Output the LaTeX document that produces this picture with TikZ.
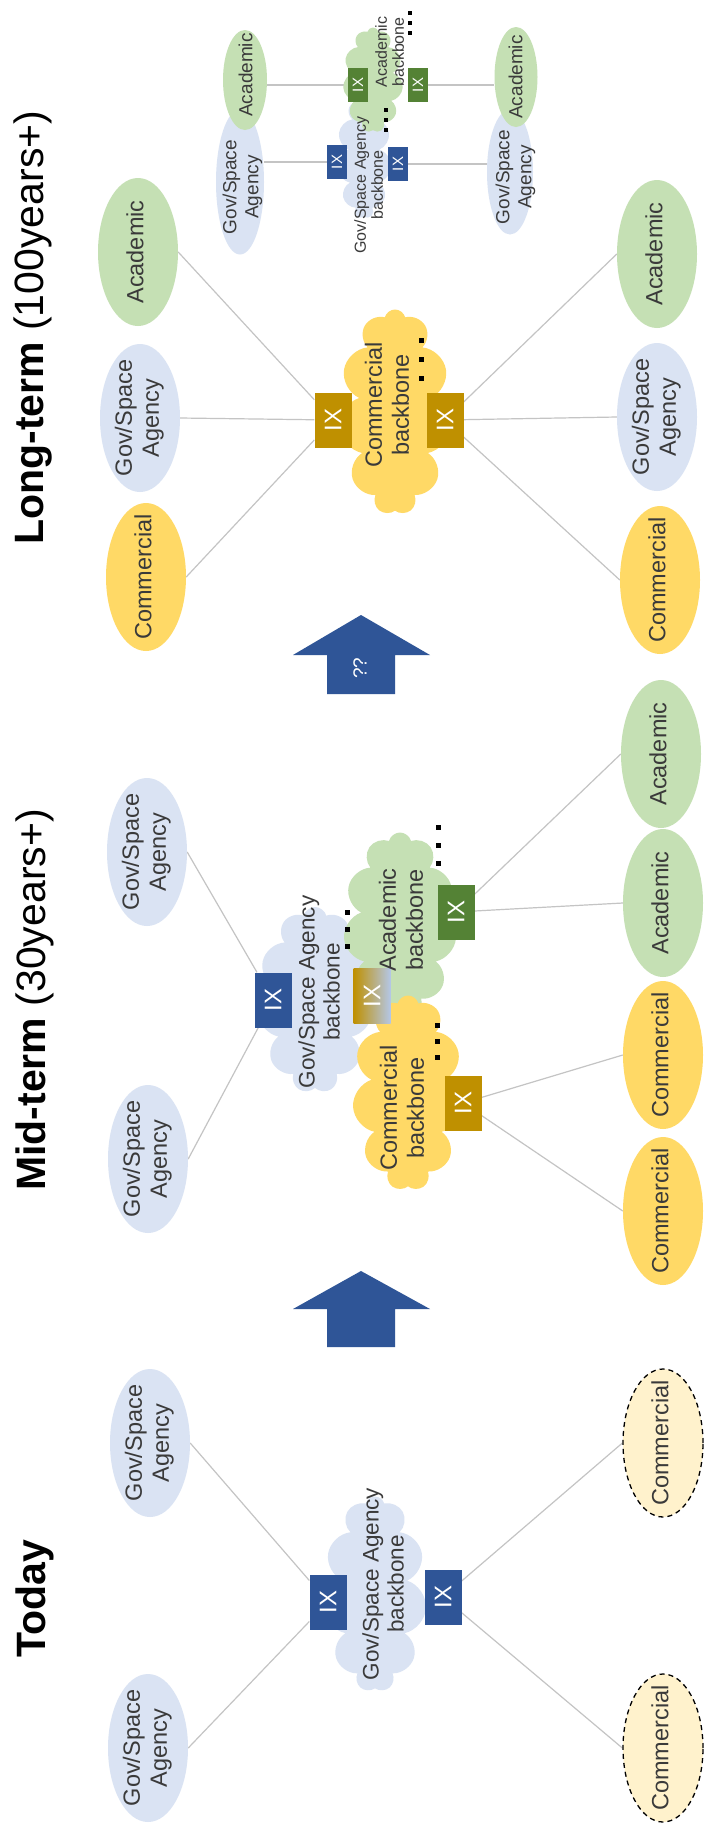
\documentclass[tikz,border=0pt]{standalone}
\usepackage{fontspec}
\setmainfont{Liberation Sans}
\usetikzlibrary{shapes.geometric,shapes.symbols}
\pgfdeclarelayer{bg}
\pgfdeclarelayer{paper}
\pgfsetlayers{paper,bg,main}
\definecolor{govc}{HTML}{DAE3F3}
\definecolor{acac}{HTML}{C5E0B4}
\definecolor{comc}{HTML}{FFD966}
\definecolor{comlight}{HTML}{FFF2CC}
\definecolor{ixblue}{HTML}{2F5597}
\definecolor{ixgold}{HTML}{BF9000}
\definecolor{ixgreen}{HTML}{548235}
\definecolor{ixlblue}{HTML}{B4C7E7}
\definecolor{linec}{HTML}{C4C4C4}
\definecolor{txt}{HTML}{3A3A3A}
\definecolor{arrowc}{HTML}{2F5597}
\newcommand\rtxt[3]{\rotatebox{90}{\fontsize{#1}{#2}\selectfont\begin{tabular}{@{}c@{}}#3\end{tabular}}}
\newcommand\mylb[1]{\rtxt{23.5pt}{27pt}{#1}}
\newcommand\mylcl[1]{\rtxt{22.5pt}{25pt}{#1}}
\newcommand\myls[1]{\rtxt{19pt}{22pt}{#1}}
\newcommand\mylc[1]{\rtxt{16pt}{17pt}{#1}}
\newcommand\IXb{\rotatebox{90}{\fontsize{24pt}{26pt}\selectfont IX}}
\newcommand\IXs{\rotatebox{90}{\fontsize{15pt}{16pt}\selectfont IX}}
\newcommand\tridots[4]{\foreach \dd in {0,1,2}{\fill[black] ({#1-#3/2},{#2+\dd*#4-#3/2}) rectangle ++(#3,#3);}}
\tikzset{
 lbl/.style={inner sep=0pt, text=txt},
 bigell/.style={ellipse, inner sep=0pt, minimum width=80pt, minimum height=148pt},
 gov/.style={bigell, fill=govc},
 aca/.style={bigell, fill=acac},
 com/.style={bigell, fill=comc},
 comdash/.style={bigell, fill=comlight, draw=black, line width=1.3pt, dash pattern=on 5pt off 4pt},
 smell/.style={ellipse, inner sep=0pt},
 cl/.style={cloud, cloud puffs=11, cloud ignores aspect, inner sep=0pt},
 ixbox/.style={rectangle, inner sep=0pt, minimum width=37pt, minimum height=55pt, text=white},
 ixsmall/.style={rectangle, inner sep=0pt, minimum width=20pt, minimum height=34pt, text=white},
 conn/.style={draw=linec, line width=1.2pt},
 title/.style={rotate=90, inner sep=0pt, anchor=base west, font=\fontsize{41pt}{46pt}\selectfont, text=black},
}
\begin{document}
\begin{tikzpicture}[x=1pt,y=-1pt]
\begin{pgfonlayer}{paper}
\fill[white] (0,0) rectangle (705,1824);
\end{pgfonlayer}
\useasboundingbox (0,0) rectangle (705,1824);

% ================= Long-term =================
\node[title] (tt3) at (43,545) {\textbf{Long-term} (100years+)};
\node[aca] (a3l) at (138,252) {};
\node[gov] (g3l) at (140,418) {};
\node[com] (c3l) at (146,577) {};
\node[aca] (a3r) at (657,254) {};
\node[gov] (g3r) at (657,417) {};
\node[com] (c3r) at (660,580) {};
\node[lbl] (a3lt) at (a3l) {\mylb{Academic}};
\node[lbl] (g3lt) at (g3l) {\mylb{Gov/Space\\Agency}};
\node[lbl] (c3lt) at (c3l) {\mylb{Commercial}};
\node[lbl] (a3rt) at (a3r) {\mylb{Academic}};
\node[lbl] (g3rt) at (g3r) {\mylb{Gov/Space\\Agency}};
\node[lbl] (c3rt) at (c3r) {\mylb{Commercial}};
\node[cl, fill=comc, minimum width=112pt, minimum height=205pt] (cc3) at (395,412) {};
\node[ixbox, fill=ixgold] (ix3l) at (333,420) {\IXb};
\node[ixbox, fill=ixgold] (ix3r) at (445,420) {\IXb};
\node[lbl] (cc3t) at (390,405) {\mylb{Commercial\\backbone}};
\tridots{421}{340}{5}{19}

% small sub-diagram
\node[smell, fill=govc, minimum width=48pt, minimum height=145pt] (sg1) at (240,182) {};
\node[smell, fill=acac, minimum width=44pt, minimum height=100pt] (sa1) at (245,80) {};
\node[smell, fill=govc, minimum width=46pt, minimum height=125pt] (sg2) at (510,172) {};
\node[smell, fill=acac, minimum width=43pt, minimum height=100pt] (sa2) at (516,77) {};
\node[cl, fill=govc, minimum width=55pt, minimum height=120pt] (sgc) at (364,158) {};
\node[cl, fill=acac, minimum width=60pt, minimum height=105pt] (sac) at (373,80) {};
\node[ixsmall, fill=ixblue] (sb1) at (337,162) {\IXs};
\node[ixsmall, fill=ixblue] (sb2) at (398,164) {\IXs};
\node[ixsmall, fill=ixgreen] (sn1) at (358,85) {\IXs};
\node[ixsmall, fill=ixgreen] (sn2) at (418,85) {\IXs};
\node[lbl] (sg1t) at (243,187) {\myls{Gov/Space\\Agency}};
\node[lbl] (sa1t) at (248,75) {\myls{Academic}};
\node[lbl] (sg2t) at (516,177) {\myls{Gov/Space\\Agency}};
\node[lbl] (sa2t) at (518,77) {\myls{Academic}};
\node[lbl] (sgct) at (371,185) {\mylc{Gov/Space Agency\\backbone}};
\node[lbl] (sact) at (392,52) {\mylc{Academic\\backbone}};
\tridots{386}{110}{3.5}{10}
\tridots{410}{13}{3.5}{10}

% arrow ??
\fill[arrowc] (361,615) -- (430,655) -- (395,655) -- (395,694) -- (327,694) -- (327,655) -- (293,655) -- cycle;
\node[inner sep=0pt, text=white] (qq) at (360,668) {\rotatebox{90}{\fontsize{19pt}{20pt}\selectfont ??}};

% ================= Mid-term =================
\node[title] (tt2) at (45,1191) {\textbf{Mid-term} (30years+)};
\node[gov] (mg1) at (147,852) {};
\node[gov] (mg2) at (148,1159) {};
\node[aca] (ma1) at (661,754) {};
\node[aca] (ma2) at (663,903) {};
\node[com] (mc1) at (663,1055) {};
\node[com] (mc2) at (663,1211) {};
\node[lbl] (mg1t) at (mg1) {\mylb{Gov/Space\\Agency}};
\node[lbl] (mg2t) at (mg2) {\mylb{Gov/Space\\Agency}};
\node[lbl] (ma1t) at (ma1) {\mylb{Academic}};
\node[lbl] (ma2t) at (ma2) {\mylb{Academic}};
\node[lbl] (mc1t) at (mc1) {\mylb{Commercial}};
\node[lbl] (mc2t) at (mc2) {\mylb{Commercial}};
\node[cl, fill=govc, minimum width=115pt, minimum height=186pt] (mgc) at (315,1000) {};
\node[cl, fill=acac, minimum width=113pt, minimum height=185pt] (mac) at (400,925) {};
\node[cl, fill=comc, minimum width=111pt, minimum height=195pt] (mcc) at (408,1093) {};
\node[ixbox, fill=ixblue] (mixb) at (273,1000) {\IXb};
\node[ixbox, left color=ixgold, right color=ixlblue, text=white] (mixg) at (372,996) {\IXb};
\node[ixbox, fill=ixgreen] (mixa) at (456,912) {\IXb};
\node[ixbox, fill=ixgold] (mixc) at (463,1103) {\IXb};
\node[lbl] (mgct) at (322,992) {\mylcl{Gov/Space Agency\\backbone}};
\node[lbl] (mact) at (404,920) {\mylb{Academic\\backbone}};
\node[lbl] (mcct) at (405,1108) {\mylb{Commercial\\backbone}};
\tridots{347}{912}{5}{17}
\tridots{438}{827}{5}{18}
\tridots{437}{1025}{5}{16}

% arrow
\fill[arrowc] (361,1271) -- (430,1309) -- (395,1309) -- (395,1347) -- (327,1347) -- (327,1309) -- (293,1309) -- cycle;

% ================= Today =================
\node[title] (tt1) at (45,1658) {\textbf{Today}};
\node[gov] (tg1) at (150,1443) {};
\node[gov] (tg2) at (148,1748) {};
\node[comdash] (tc1) at (663,1443) {};
\node[comdash] (tc2) at (663,1748) {};
\node[lbl] (tg1t) at (tg1) {\mylb{Gov/Space\\Agency}};
\node[lbl] (tg2t) at (tg2) {\mylb{Gov/Space\\Agency}};
\node[lbl] (tc1t) at (tc1) {\mylb{Commercial}};
\node[lbl] (tc2t) at (tc2) {\mylb{Commercial}};
\node[cl, fill=govc, minimum width=103pt, minimum height=195pt] (tgc) at (375,1594) {};
\node[ixbox, fill=ixblue] (tixl) at (328,1602) {\IXb};
\node[ixbox, fill=ixblue] (tixr) at (443,1597) {\IXb};
\node[lbl] (tgct) at (386,1584) {\mylcl{Gov/Space Agency\\backbone}};

% ================= connectors =================
\begin{pgfonlayer}{bg}
\draw[conn] (a3l.east) -- (ix3l);
\draw[conn] (g3l.east) -- (ix3l);
\draw[conn] (c3l.east) -- (ix3l);
\draw[conn] (ix3r) -- (a3r.west);
\draw[conn] (ix3r) -- (g3r.west);
\draw[conn] (ix3r) -- (c3r.west);
\draw[conn] (sb1.west) -- (sb1.west -| sg1.east);
\draw[conn] (sn1.west) -- (sn1.west -| sa1.east);
\draw[conn] (sb2.east) -- (sb2.east -| sg2.west);
\draw[conn] (sn2.east) -- (sn2.east -| sa2.west);
\draw[conn] (mg1.east) -- (mixb);
\draw[conn] (mg2.east) -- (mixb);
\draw[conn] (mixa) -- (ma1.west);
\draw[conn] (mixa) -- (ma2.west);
\draw[conn] (mixc) -- (mc1.west);
\draw[conn] (mixc) -- (mc2.west);
\draw[conn] (tg1.east) -- (tixl);
\draw[conn] (tg2.east) -- (tixl);
\draw[conn] (tixr) -- (tc1.west);
\draw[conn] (tixr) -- (tc2.west);
\end{pgfonlayer}
\end{tikzpicture}
\end{document}
